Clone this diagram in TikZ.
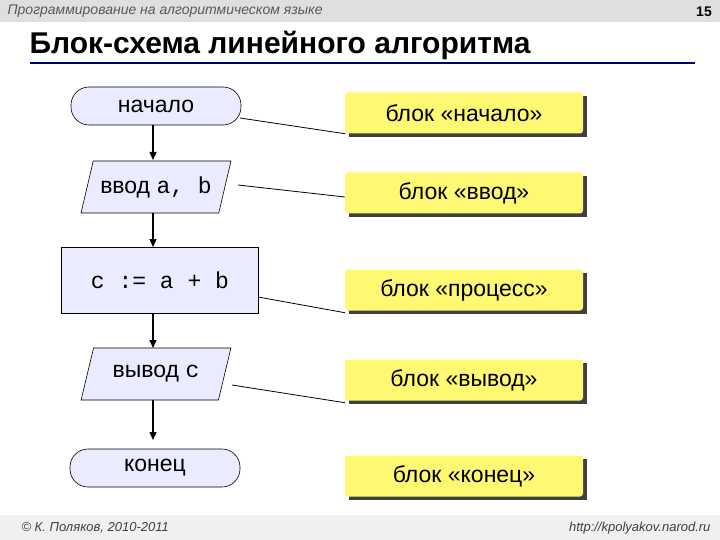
\documentclass[tikz,border=0pt]{standalone}
\usepackage{fontspec}
\setmainfont{Liberation Sans}
\setmonofont{Liberation Mono}
\usetikzlibrary{shapes.geometric,arrows.meta}
\begin{document}
\begin{tikzpicture}[x=1pt,y=-1pt,
 blk/.style={draw=black,fill=blue!8,line width=0.6pt,font=\fontsize{23}{26}\selectfont,inner sep=0pt},
 term/.style={blk,rounded corners=18pt,minimum width=170pt,minimum height=38pt},
 io/.style={blk,trapezium,trapezium left angle=63,trapezium right angle=117,minimum width=150pt,minimum height=52pt,trapezium stretches=true},
 proc/.style={blk,minimum width=197pt,minimum height=66pt},
 call/.style={fill=yellow!55,minimum width=238pt,minimum height=41pt,font=\fontsize{23}{26}\selectfont,rounded corners=3pt},
 arr/.style={-{Triangle[length=8pt,width=7pt]},line width=1.3pt},
 lk/.style={line width=0.8pt}]
\useasboundingbox (0,0) rectangle (720,540);
\fill[gray!25] (0,0) rectangle (720,22);
\node[anchor=west,font=\itshape\fontsize{14}{16}\selectfont,text=gray!70!black] (hdr) at (4,11) {Программирование на алгоритмическом языке};
\node[font=\bfseries\fontsize{14}{16}\selectfont] (num) at (704,12) {15};
\node[anchor=west,font=\bfseries\fontsize{30}{34}\selectfont] (title) at (26,45) {Блок-схема линейного алгоритма};
\draw[line width=2pt,blue!45!black] (30,63) -- (695,63);
\fill[gray!12] (0,515) rectangle (720,540);
\node[anchor=west,font=\itshape\fontsize{13}{15}\selectfont,text=gray!50!black] (cp) at (18,528) {© К. Поляков, 2010-2011};
\node[anchor=east,font=\itshape\fontsize{13}{15}\selectfont,text=gray!50!black] (url) at (714,528) {http://kpolyakov.narod.ru};

\node[term] (n1) at (156,106) {начало};
\node[io] (n2) at (156,187) {ввод \texttt{a, b}};
\node[proc] (n3) at (160,280) {\texttt{c := a + b}};
\node[io] (n4) at (156,374) {вывод \texttt{c}};
\node[term] (n5) at (155,468) {конец};
\draw[arr] (153,125) -- (153,160);
\draw[arr] (153,213) -- (153,247);
\draw[arr] (153,313) -- (153,348);
\draw[arr] (153,400) -- (153,440);

\foreach \y/\t/\n in {113/начало/c1,193/ввод/c2,290/процесс/c3,380/вывод/c4,476/конец/c5}{
  \fill[black!75] (349,\y-17) rectangle (587,\y+24);
  \node[call] (\n) at (464,\y) {блок «\t»};
}
\coordinate (p1) at (240,118); \coordinate (p2) at (238,185);
\coordinate (p3) at (258,297); \coordinate (p4) at (232,385);
\draw[lk] (p1) -- (c1.south west);
\draw[lk] (p2) -- ([yshift=-4pt]c2.west);
\draw[lk] (p3) -- ([yshift=-2pt]c3.south west);
\draw[lk] (p4) -- ([yshift=-2pt]c4.south west);
\end{tikzpicture}
\end{document}
